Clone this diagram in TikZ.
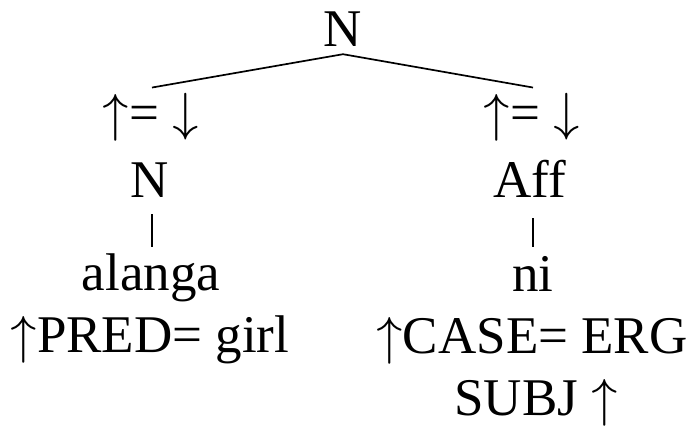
\documentclass[tikz,border=0pt]{standalone}
\usepackage{fontspec}
\usepackage{unicode-math}
\setmainfont{Liberation Serif}
\setmathfont{Latin Modern Math}
\newcommand{\upa}{\ensuremath{\uparrow}}
\newcommand{\dna}{\ensuremath{\downarrow}}
\begin{document}
\begin{tikzpicture}[x=1pt,y=-1pt,
  lbl/.style={inner sep=0pt,anchor=base,font=\fontsize{53}{62}\selectfont},
  edge/.style={line width=1.7pt},
  bar/.style={line width=1.4pt}]
\useasboundingbox (0,0) rectangle (692,428);
\node[lbl] (root) at (343,47) {N};
\node[lbl] (lu) at (151,130) {\upa= \dna};
\node[lbl] (ru) at (532,130) {\upa= \dna};
\node[lbl] (ln) at (150,197) {N};
\node[lbl] (rn) at (530,197) {Aff};
\node[lbl] (lw) at (151,290) {alanga};
\node[lbl] (rw) at (533,291) {ni};
\node[lbl] (lf) at (150,352) {\upa PRED= girl};
\node[lbl] (rf) at (532,353) {\upa CASE= ERG};
\node[lbl] (rg) at (536,415) {SUBJ \upa};
\draw[edge] ([yshift=-7pt]root.south) -- ([xshift=1pt,yshift=5pt]lu.north);
\draw[edge] ([yshift=-7pt]root.south) -- ([xshift=1pt,yshift=5pt]ru.north);
\draw[bar] ([xshift=2pt,yshift=-17pt]ln.south) -- ([xshift=2pt,yshift=-50pt]ln.south);
\draw[bar] ([xshift=3pt,yshift=-21pt]rn.south) -- ([xshift=3pt,yshift=-50pt]rn.south);
\end{tikzpicture}
\end{document}
